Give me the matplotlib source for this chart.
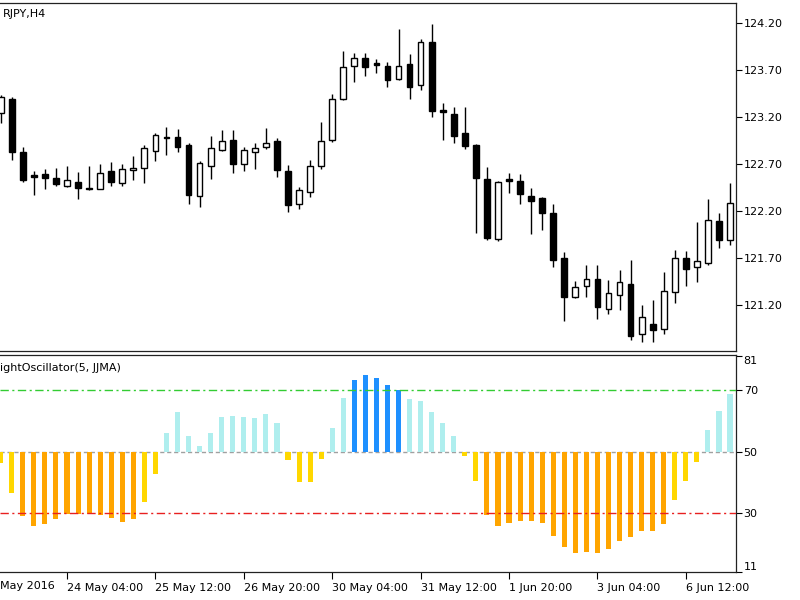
import matplotlib
matplotlib.use("Agg")
import matplotlib.pyplot as plt
import numpy as np

# ---------------- data ----------------
# visible parts of the titles (the chart's left edge cuts them in the reference)
symbol_title = "RJPY,H4"
indicator_title = "ightOscillator(5, JJMA)"

opens = [123.24, 123.39, 122.83, 122.58, 122.59, 122.55, 122.47, 122.51, 122.45, 122.44,
         122.63, 122.50, 122.64, 122.66, 122.84, 122.99, 122.99, 122.90, 122.36, 122.68,
         122.85, 122.96, 122.70, 122.83, 122.88, 122.95, 122.63, 122.28, 122.40, 122.68,
         122.96, 123.39, 123.74, 123.83, 123.78, 123.75, 123.61, 123.77, 123.54, 124.00,
         123.28, 123.23, 123.03, 122.90, 122.54, 121.90, 122.54, 122.52, 122.36, 122.34,
         122.18, 121.70, 121.28, 121.40, 121.48, 121.16, 121.31, 121.42, 120.89, 121.00,
         120.94, 121.34, 121.70, 121.60, 121.65, 122.09, 121.89]
highs = [123.44, 123.42, 122.88, 122.63, 122.65, 122.66, 122.68, 122.62, 122.68, 122.70,
         122.72, 122.70, 122.79, 122.90, 123.03, 123.10, 123.07, 122.93, 122.73, 123.00,
         123.06, 123.06, 122.88, 122.93, 123.09, 122.98, 122.69, 122.46, 122.74, 123.15,
         123.45, 123.90, 123.88, 123.88, 123.82, 123.79, 124.14, 123.87, 124.03, 124.19,
         123.35, 123.31, 123.31, 122.91, 122.67, 122.52, 122.61, 122.59, 122.45, 122.35,
         122.28, 121.76, 121.46, 121.63, 121.63, 121.47, 121.57, 121.68, 121.20, 121.25,
         121.55, 121.79, 121.78, 122.08, 122.33, 122.18, 122.50]
lows = [123.14, 122.74, 122.51, 122.37, 122.44, 122.47, 122.46, 122.33, 122.42, 122.43,
        122.47, 122.47, 122.53, 122.50, 122.73, 122.80, 122.83, 122.28, 122.24, 122.54,
        122.84, 122.61, 122.63, 122.65, 122.86, 122.56, 122.19, 122.22, 122.35, 122.65,
        122.94, 123.38, 123.58, 123.64, 123.67, 123.52, 123.60, 123.39, 123.49, 123.20,
        122.96, 122.93, 122.86, 121.97, 121.89, 121.88, 122.39, 122.28, 121.96, 122.00,
        121.60, 121.03, 121.27, 121.28, 121.05, 121.10, 121.15, 120.83, 120.81, 120.81,
        120.89, 121.22, 121.40, 121.44, 121.63, 121.81, 121.84]
closes = [123.41, 122.83, 122.53, 122.56, 122.55, 122.49, 122.53, 122.45, 122.44, 122.61,
          122.51, 122.65, 122.66, 122.87, 123.01, 122.98, 122.88, 122.37, 122.71, 122.87,
          122.95, 122.70, 122.85, 122.87, 122.93, 122.64, 122.27, 122.42, 122.68, 122.95,
          123.39, 123.73, 123.83, 123.73, 123.76, 123.60, 123.75, 123.52, 124.00, 123.27,
          123.25, 123.00, 122.89, 122.55, 121.91, 122.51, 122.52, 122.38, 122.31, 122.18,
          121.68, 121.28, 121.39, 121.48, 121.18, 121.33, 121.44, 120.87, 121.07, 120.93,
          121.35, 121.70, 121.58, 121.67, 122.10, 121.89, 122.29]

osc_values = [46.3, 36.7, 29.1, 25.9, 26.5, 28.1, 29.7, 29.6, 29.7, 29.5,
              28.6, 27.2, 28.1, 33.5, 42.8, 56.0, 62.8, 55.2, 51.9, 56.0,
              61.4, 61.7, 61.4, 61.1, 62.3, 59.2, 47.4, 40.2, 40.2, 47.7,
              57.8, 67.5, 73.4, 74.8, 74.0, 71.8, 70.2, 67.3, 66.5, 62.8,
              59.2, 55.2, 48.5, 40.6, 29.5, 25.9, 26.8, 27.5, 27.5, 26.8,
              22.7, 19.1, 17.0, 17.5, 17.0, 18.4, 20.9, 22.4, 24.1, 24.1,
              26.5, 34.3, 40.6, 46.7, 57.1, 63.2, 68.9]

price_ticks = [124.20, 123.70, 123.20, 122.70, 122.20, 121.70, 121.20]
osc_ticks = [81, 70, 50, 30, 11]
level_high, level_mid, level_low = 70, 50, 30

date_tick_bars = [6, 14, 22, 30, 38, 46, 54, 62]
date_tick_labels = ["24 May 04:00", "25 May 12:00", "26 May 20:00", "30 May 04:00",
                    "31 May 12:00", "1 Jun 20:00", "3 Jun 04:00", "6 Jun 12:00"]
first_label = "May 2016"   # visible part of the first (cut) date label

# ---------------- figure ----------------
W, H = 800, 600
plt.rcParams['font.family'] = ['DejaVu Sans']
fig = plt.figure(figsize=(W / 100, H / 100), dpi=100)
fig.patch.set_facecolor('white')


def frac_y(py):
    return 1 - py / H


main_top, main_bot = 3, 351
osc_top, osc_bot = 354.5, 571.7
right_px = 736

ax1 = fig.add_axes([0, frac_y(main_bot), right_px / W, (main_bot - main_top) / H])
ax2 = fig.add_axes([0, frac_y(osc_bot), right_px / W, (osc_bot - osc_top) / H])

n = len(opens)
x = np.arange(n)
xlim = (-0.063, 66.54)

# ---- candles ----
o = np.array(opens); c = np.array(closes); h = np.array(highs); l = np.array(lows)
ax1.vlines(x, l, h, color='black', linewidth=1.0, zorder=2)
up = c >= o
body_w = 0.52
ax1.bar(x[up], (c - o)[up], bottom=o[up], width=body_w, facecolor='white',
        edgecolor='black', linewidth=1.0, zorder=3)
ax1.bar(x[~up], (o - c)[~up], bottom=c[~up], width=body_w, facecolor='black',
        edgecolor='black', linewidth=1.0, zorder=3)

ax1.set_xlim(*xlim)
ax1.set_ylim(120.71, 124.416)
ax1.yaxis.tick_right()
ax1.set_yticks(price_ticks)
ax1.set_yticklabels([f"{v:.2f}" for v in price_ticks])
ax1.set_xticks([])
ax1.tick_params(axis='y', direction='out', length=4, width=0.8, pad=1.5,
                labelsize=8, colors='black')
ax1.spines['left'].set_visible(False)
for s in ['top', 'right', 'bottom']:
    ax1.spines[s].set_linewidth(0.9)
    ax1.spines[s].set_color('#222222')

# ---- oscillator ----
vals = np.array(osc_values)
colors = []
for v in vals:
    if v >= level_high:
        colors.append('#1E90FF')
    elif v >= level_mid:
        colors.append('#AFEEEE')
    elif v >= level_low:
        colors.append('#FFD700')
    else:
        colors.append('#FFA500')
ax2.bar(x, vals - level_mid, bottom=level_mid, width=0.46, color=colors,
        linewidth=0, zorder=2)

ax2.axhline(level_high, color='#33CC33', linewidth=1.0, dashes=(6, 2.5, 1.5, 2.5), zorder=3)
ax2.axhline(level_mid, color='#A0A0A0', linewidth=1.0, dashes=(3, 2), zorder=1)
ax2.axhline(level_low, color='#E82020', linewidth=1.0, dashes=(6, 2.5, 1.5, 2.5), zorder=3)

ax2.set_xlim(*xlim)
ax2.set_ylim(11.45, 81.61)
ax2.yaxis.tick_right()
ax2.set_yticks(osc_ticks)
ax2.set_yticklabels([str(v) for v in osc_ticks])
ax2.tick_params(axis='y', direction='out', length=4, width=0.8, pad=1.5,
                labelsize=8, colors='black')
for lab in ax2.get_yticklabels():
    if lab.get_text() == str(osc_ticks[0]):
        lab.set_va('top')
    elif lab.get_text() == str(osc_ticks[-1]):
        lab.set_va('bottom')

ax2.set_xticks(date_tick_bars)
ax2.set_xticklabels(date_tick_labels, ha='left')
ax2.tick_params(axis='x', direction='out', length=5, width=0.8, pad=3,
                labelsize=8, colors='black')
ax2.spines['left'].set_visible(False)
for s in ['top', 'right', 'bottom']:
    ax2.spines[s].set_linewidth(0.9)
    ax2.spines[s].set_color('#222222')

# first (cut) date label, shown from the left edge
ax2.text(0.5 / right_px, -0.043, first_label, transform=ax2.transAxes,
         ha='left', va='top', fontsize=8, clip_on=False)

# ---- titles ----
fig.text(3 / W, frac_y(14), symbol_title, ha='left', va='center', fontsize=8)
fig.text(0.5 / W, frac_y(368), indicator_title, ha='left', va='center', fontsize=8)

fig.savefig("out.png", dpi=100, facecolor='white')
